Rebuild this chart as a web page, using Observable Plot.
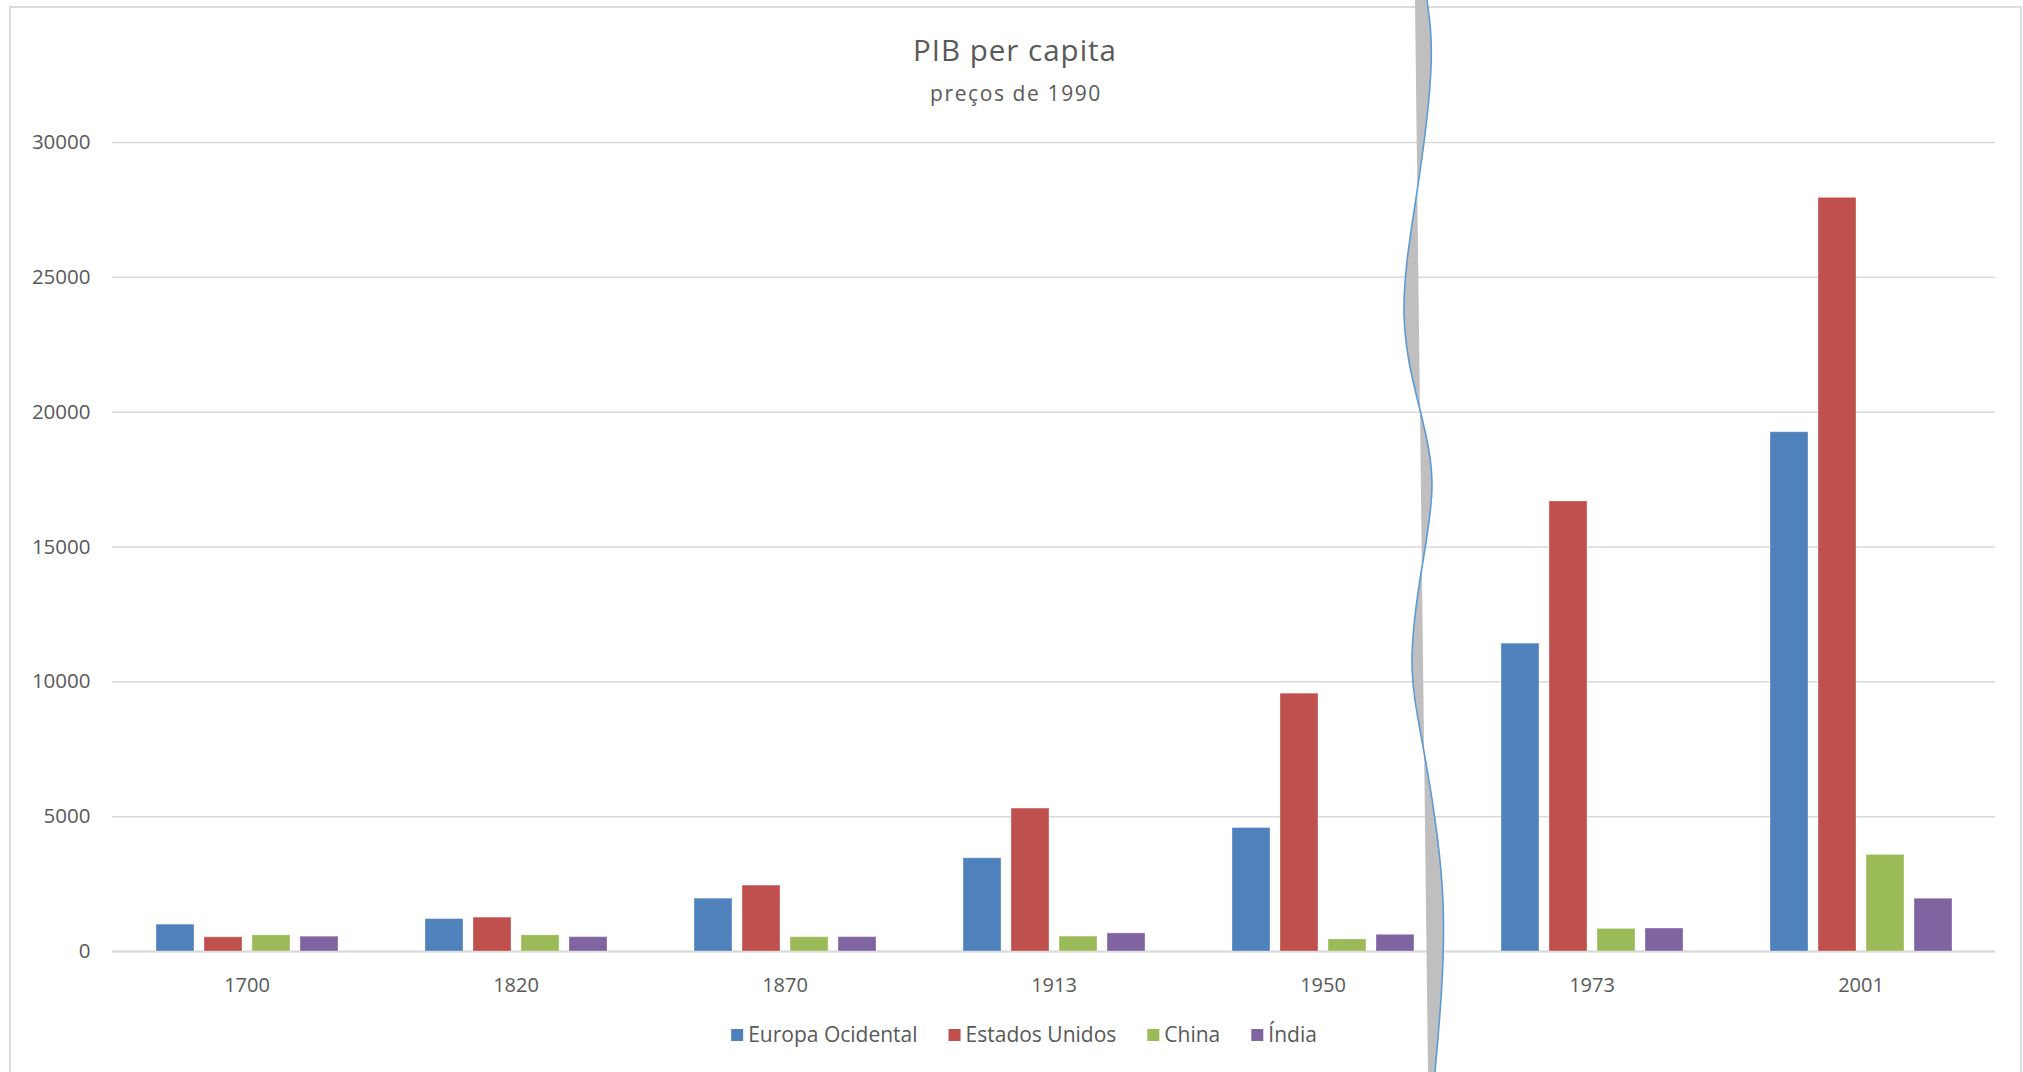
<!DOCTYPE html>
<html>
<head>
<meta charset="utf-8">
<script src="https://cdn.jsdelivr.net/npm/d3@7"></script>
<script src="https://cdn.jsdelivr.net/npm/@observablehq/plot@0.6"></script>
<style>
  html, body { margin: 0; padding: 0; background: #fff; }
  #wrap { position: relative; width: 2023px; height: 1072px; overflow: hidden; background: #fff; font-family: "Open Sans", sans-serif; color: #595959; }
  #frame { position: absolute; left: 9px; top: 6px; width: 2013px; height: 1100px; border: 2px solid #dcdcdc; box-sizing: border-box; }
  #plot { position: absolute; left: 0; top: 0; }
  #overlay { position: absolute; left: 0; top: 0; pointer-events: none; }
</style>
</head>
<body>
<div id="wrap">
  <div id="frame"></div>
  <div id="plot"></div>
  <svg id="overlay" width="2023" height="1072"></svg>
</div>
<script>
// ---- data ----
const years = ["1700", "1820", "1870", "1913", "1950", "1973", "2001"];
const series = ["Europa Ocidental", "Estados Unidos", "China", "Índia"];
const europaOcidental = [997, 1202, 1960, 3458, 4579, 11416, 19256];
const estadosUnidos = [527, 1257, 2445, 5301, 9561, 16689, 27948];
const china = [600, 600, 530, 552, 448, 838, 3583];
const india = [550, 533, 533, 673, 619, 853, 1957];
const colors = ["#4F81BD", "#C0504D", "#9BBB59", "#8064A2"];
const yTicks = [0, 5000, 10000, 15000, 20000, 25000, 30000];
const titleText = "PIB per capita";
const subtitleText = "preços de 1990";

const seriesValues = [europaOcidental, estadosUnidos, china, india];
const data = years.flatMap((yr, i) => series.map((s, j) => ({year: yr, series: s, value: seriesValues[j][i]})));

// ---- chart ----
const chart = Plot.plot({
  width: 2023,
  height: 1010,
  marginTop: 142,
  marginBottom: 59,
  marginLeft: 109,
  marginRight: 26,
  style: {fontFamily: '"Open Sans", sans-serif', fontSize: "20px", color: "#595959", background: "transparent"},
  fx: {domain: years, padding: 0, label: null, axis: null},
  x: {domain: series, paddingInner: 0.21, paddingOuter: 0.9, axis: null},
  y: {domain: [0, 30000], axis: null},
  color: {domain: series, range: colors},
  marks: [
    Plot.gridY(yTicks, {stroke: "#d9d9d9", strokeOpacity: 1, strokeWidth: 1.5}),
    Plot.ruleY([0], {stroke: "#d9d9d9", strokeWidth: 2}),
    Plot.barY(data, {fx: "year", x: "series", y: "value", fill: "series", stroke: "#ffffff", strokeOpacity: 0.35, strokeWidth: 1}),
    Plot.axisY(yTicks, {anchor: "left", tickSize: 0, tickPadding: 22, label: null, fontSize: 20.5, tickFormat: d => String(d)}),
    Plot.axisFx({anchor: "bottom", tickSize: 0, tickPadding: 26, label: null, fontSize: 20})
  ]
});
document.getElementById("plot").appendChild(chart);

// ---- overlay: title, subtitle, legend, axis-break decoration ----
const svg = d3.select("#overlay");
const font = '"Open Sans", sans-serif';

// axis-break decoration (wavy band)
const wave = [[1427,0],[1431,68],[1418,185],[1404,311],[1420,410],[1432,485],[1422,567],[1412,660],[1424,752],[1443,902],[1435,1072]];
const curve = d3.line().curve(d3.curveNatural)(wave);
svg.append("path").attr("d", curve + "L1428,1072L1415,0Z").attr("fill", "#bfbfbf").attr("stroke", "none");
svg.append("path").attr("d", curve).attr("fill", "none").attr("stroke", "#5b9bd5").attr("stroke-width", 1.6);

svg.append("text").attr("x", 1015).attr("y", 61).attr("text-anchor", "middle")
  .attr("font-family", font).attr("font-size", 29.5).attr("letter-spacing", "1px").attr("fill", "#595959").text(titleText);
svg.append("text").attr("x", 1016).attr("y", 101).attr("text-anchor", "middle")
  .attr("font-family", font).attr("font-size", 21).attr("letter-spacing", "1.6px").attr("fill", "#595959").text(subtitleText);

// legend
const lg = svg.append("g");
let cx = 0;
series.forEach((s, i) => {
  const g = lg.append("g").attr("transform", `translate(${cx},0)`);
  g.append("rect").attr("x", 0).attr("y", -13).attr("width", 12).attr("height", 12).attr("fill", colors[i]);
  const t = g.append("text").attr("x", 17).attr("y", 0).attr("font-family", font).attr("font-size", 21)
    .attr("fill", "#595959").text(s);
  const w = t.node().getComputedTextLength();
  cx += 17 + w + 31;
});
const total = cx - 31;
lg.attr("transform", `translate(${1024 - total / 2},1042)`);
</script>
</body>
</html>
